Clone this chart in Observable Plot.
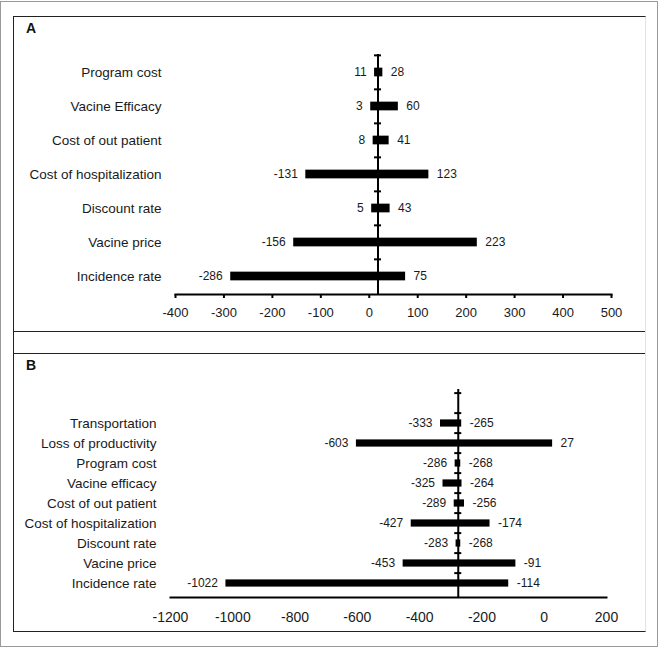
<!DOCTYPE html>
<html><head><meta charset="utf-8">
<script src="https://cdn.jsdelivr.net/npm/d3@7"></script>
<script src="https://cdn.jsdelivr.net/npm/@observablehq/plot@0.6"></script>
<style>
body{margin:0;background:#fff;font-family:"Liberation Sans",Arial,sans-serif;}
#page{position:relative;width:659px;height:648px;overflow:hidden;background:#fff}
.abs{position:absolute}
.lbl{position:absolute;font:bold 14px "Liberation Sans",Arial,sans-serif;line-height:14px;color:#111}
svg{position:absolute;left:0}
</style></head><body>
<div id="page"></div>
<script>
// ---- Panel A data ----
const catsA = ["Program cost","Vacine Efficacy","Cost of out patient","Cost of hospitalization","Discount rate","Vacine price","Incidence rate"];
const lowA  = [11, 3, 8, -131, 5, -156, -286];
const highA = [28, 60, 41, 123, 43, 223, 75];
const baseA = [18];
const ticksA = [-400,-300,-200,-100,0,100,200,300,400,500];

// ---- Panel B data ----
const catsB = ["Transportation","Loss of productivity","Program cost","Vacine efficacy","Cost of out patient","Cost of hospitalization","Discount rate","Vacine price","Incidence rate"];
const lowB  = [-333, -603, -286, -325, -289, -427, -283, -453, -1022];
const highB = [-265, 27, -268, -264, -256, -174, -268, -91, -114];
const baseB = [-276];
const ticksB = [-1200,-1000,-800,-600,-400,-200,0,200];

const rowsA = catsA.map((c,i)=>({cat:c, low:lowA[i], high:highA[i]}));
const rowsB = catsB.map((c,i)=>({cat:c, low:lowB[i], high:highB[i]}));
const fmt = d => String(d);
const font = '"Liberation Sans", Arial, sans-serif';
const page = document.getElementById("page");

function panel({rows, domain, base, ticks, xdom, top, height, mt, mb, ml, mr, barH, tickSize, tickPad, tickFont, catPad}) {
  const step = (height - mt - mb) / domain.length;
  const inset = (step - barH) / 2;
  const p = Plot.plot({
    width: 659, height, marginLeft: ml, marginRight: mr, marginTop: mt, marginBottom: mb,
    style: {background: "transparent", fontFamily: font, fontSize: "12px", color: "#1a1a1a", overflow: "visible"},
    x: {domain: xdom},
    y: {domain, padding: 0},
    marks: [
      Plot.barX(rows, {x1: "low", x2: "high", y: "cat", fill: "#000", insetTop: inset, insetBottom: inset}),
      Plot.ruleX(base, {x: d => d, stroke: "#000", strokeWidth: 2}),
      Plot.ruleY(domain, {y: d => d, x1: () => base[0], x2: () => base[0], insetLeft: -3.5, insetRight: -3.5, dy: -step/2, stroke: "#000", strokeWidth: 2}),
      Plot.frame({anchor: "bottom", stroke: "#000", strokeWidth: 2}),
      Plot.axisX({ticks, tickFormat: fmt, tickSize, tickPadding: tickPad, fontSize: tickFont, stroke: "#000", strokeWidth: 2, label: null}),
      Plot.axisY({tickSize: 0, tickPadding: catPad, fontSize: 13.5, label: null}),
      Plot.text(rows, {x: "low", y: "cat", text: d => fmt(d.low), textAnchor: "end", dx: -8, fontSize: 12, fill: "#1a1a1a"}),
      Plot.text(rows, {x: "high", y: "cat", text: d => fmt(d.high), textAnchor: "start", dx: 8, fontSize: 12, fill: "#1a1a1a"})
    ]
  });
  p.style.top = top + "px";
  page.appendChild(p);
}

panel({rows: rowsA, domain: catsA, base: baseA, ticks: ticksA, xdom: [-400, 500],
  top: 0, height: 331, mt: 54, mb: 37, ml: 175, mr: 48, barH: 9, tickSize: 4, tickPad: 9, tickFont: 13, catPad: 14});
panel({rows: rowsB, domain: [" ", ...catsB], base: baseB, ticks: ticksB, xdom: [-1200, 200],
  top: 331, height: 317, mt: 58, mb: 51, ml: 170, mr: 53, barH: 8, tickSize: 0, tickPad: 15, tickFont: 14, catPad: 14});

// frames and panel letters
const add = (css, cls="abs", txt="") => { const d = document.createElement("div"); d.className = cls; d.style.cssText = css; d.textContent = txt; page.appendChild(d); };
add("left:0;top:1px;width:656px;height:644px;border:1px solid #9a9a9a;");
add("left:13px;top:16px;width:631px;height:614px;border:1px solid #222;border-right-color:#e2e2e2;");
add("left:13px;top:331px;width:632px;height:0;border-top:1px solid #222;");
add("left:13px;top:353px;width:632px;height:0;border-top:1px solid #222;");
add("left:26px;top:21px;", "lbl", "A");
add("left:26px;top:358px;", "lbl", "B");
</script>
</body></html>
